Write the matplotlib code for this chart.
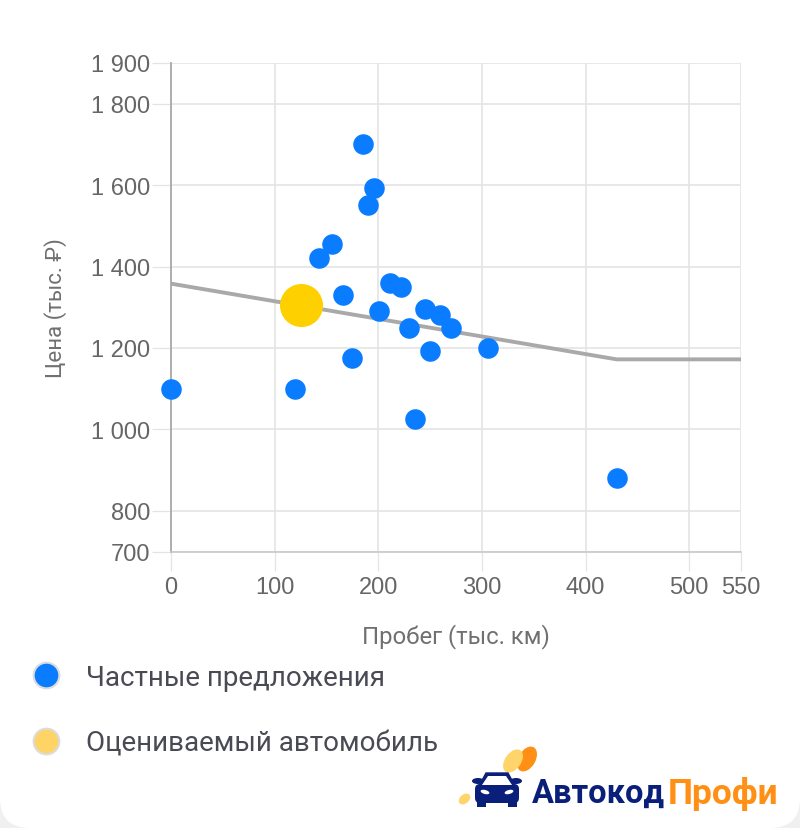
import matplotlib
matplotlib.use("Agg")
import matplotlib.pyplot as plt
from matplotlib.lines import Line2D
from matplotlib.patches import Ellipse, FancyBboxPatch, Polygon, Rectangle

# данные с графика
mileage = [0, 120, 143, 155, 166, 175, 185, 190, 196, 201, 211, 222, 230, 235, 245, 250, 260, 270, 306, 430]
price = [1100, 1100, 1420, 1455, 1330, 1175, 1700, 1550, 1593, 1290, 1360, 1350, 1250, 1026, 1295, 1192, 1280, 1250, 1200, 880]
target_mileage = [125]
target_price = [1305]
trend_mileage = [0, 430, 550]
trend_price = [1358, 1172, 1172]
x_ticks = [0, 100, 200, 300, 400, 500, 550]
y_ticks = [700, 800, 1000, 1200, 1400, 1600, 1800, 1900]
y_labels = ["700", "800", "1 000", "1 200", "1 400", "1 600", "1 800", "1 900"]

W, H = 800, 829
fig = plt.figure(figsize=(W / 100, H / 100), dpi=100)
fig.patch.set_facecolor("#f0f0f0")

# белая карточка и слой для логотипа в пикселях
bg = fig.add_axes([0, 0, 1, 1])
bg.set_xlim(0, W)
bg.set_ylim(H, 0)
bg.axis("off")
bg.add_patch(FancyBboxPatch((0, -40), W, H + 40, boxstyle="round,pad=0,rounding_size=30",
                            fc="white", ec="none"))

ax = fig.add_axes([171 / W, 1 - 552.5 / H, (741 - 171) / W, (552.5 - 64) / H])
ax.set_xlim(0, 550)
ax.set_ylim(700, 1900)
ax.patch.set_alpha(0)
ax.grid(True, color="#e4e4e4", lw=1.2)
ax.set_axisbelow(True)
for side in ["top", "right"]:
    ax.spines[side].set_visible(False)
ax.spines["left"].set_color("#a8a8a8")
ax.spines["left"].set_linewidth(1.3)
ax.spines["bottom"].set_color("#c8c8c8")
ax.spines["bottom"].set_linewidth(1.2)
ax.set_xticks(x_ticks)
ax.set_yticks(y_ticks)
ax.set_yticklabels(y_labels)
ax.tick_params(axis="both", length=14, width=0.9, color="#e4e4e4", labelcolor="#666666", labelsize=17)
ax.tick_params(axis="x", pad=4)
ax.tick_params(axis="y", pad=1)
for lab in ax.get_xticklabels() + ax.get_yticklabels():
    lab.set_family("Liberation Sans")

ax.plot(trend_mileage, trend_price, color="#a9a9a9", lw=2.8, solid_joinstyle="miter", solid_capstyle="butt", zorder=3)
ax.scatter(mileage, price, s=219, color="#0a7cff", lw=0, clip_on=False, zorder=4)
ax.scatter(target_mileage, target_price, s=960, color="#ffd000", lw=0, zorder=5)

ax.set_xlabel("Пробег (тыс. км)", family="Roboto", fontsize=17.2, color="#707070", labelpad=18)
ax.set_ylabel("Цена (тыс. ₽)", family=["Roboto", "DejaVu Sans"], fontsize=16, color="#707070", labelpad=17)

# легенда
handles = [
    Line2D([], [], ls="", marker="o", ms=18.5, mfc="#0a7cff", mec="#dcdcdc", mew=1.5, label="Частные предложения"),
    Line2D([], [], ls="", marker="o", ms=18.5, mfc="#ffd466", mec="#dcdcdc", mew=1.5, label="Оцениваемый автомобиль"),
]
fig.legend(handles=handles, loc="upper left", bbox_to_anchor=(18 / W, 1 - 664.5 / H), frameon=False,
           prop={"family": "Roboto", "size": 20}, labelcolor="#4a4a55",
           labelspacing=1.4, handletextpad=0.45, borderpad=0, borderaxespad=0)

# логотип
navy = "#0a1f7a"
orange = "#ff9015"
yellow = "#ffd56b"
bg.add_patch(Ellipse((527, 760), 17, 27, angle=30, fc=orange, ec="none"))
bg.add_patch(Ellipse((513, 762), 16, 26, angle=35, fc=yellow, ec="none"))
bg.add_patch(Ellipse((464.5, 800), 9, 13, angle=50, fc=yellow, ec="none"))
bg.add_patch(Ellipse((478, 782), 12, 6, fc=navy, ec="none"))
bg.add_patch(Ellipse((516, 782), 12, 6, fc=navy, ec="none"))
bg.add_patch(FancyBboxPatch((475, 785), 44, 19, boxstyle="round,pad=0,rounding_size=5", fc=navy, ec="none"))
bg.add_patch(Polygon([(479, 787), (486, 774), (508, 774), (515, 787)], closed=True, fc=navy, ec=navy, lw=1))
bg.add_patch(Polygon([(482, 786), (488, 777), (506, 777), (512, 786)], closed=True, fc="white", ec="none"))
bg.add_patch(Rectangle((477, 800), 9, 8, fc=navy, ec="none"))
bg.add_patch(Rectangle((508, 800), 9, 8, fc=navy, ec="none"))
bg.add_patch(Ellipse((485, 793), 9, 4, angle=15, fc="white", ec="none"))
bg.add_patch(Ellipse((509, 793), 9, 4, angle=-15, fc="white", ec="none"))
bg.text(532, 794, "Автокод", family="Roboto", weight="bold", fontsize=23.5,
        color=navy, va="center", ha="left")
bg.text(668, 794, "Профи", family="Roboto", weight="bold", fontsize=25.5,
        color=orange, va="center", ha="left")

fig.savefig("out.png", dpi=100, facecolor=fig.get_facecolor())
